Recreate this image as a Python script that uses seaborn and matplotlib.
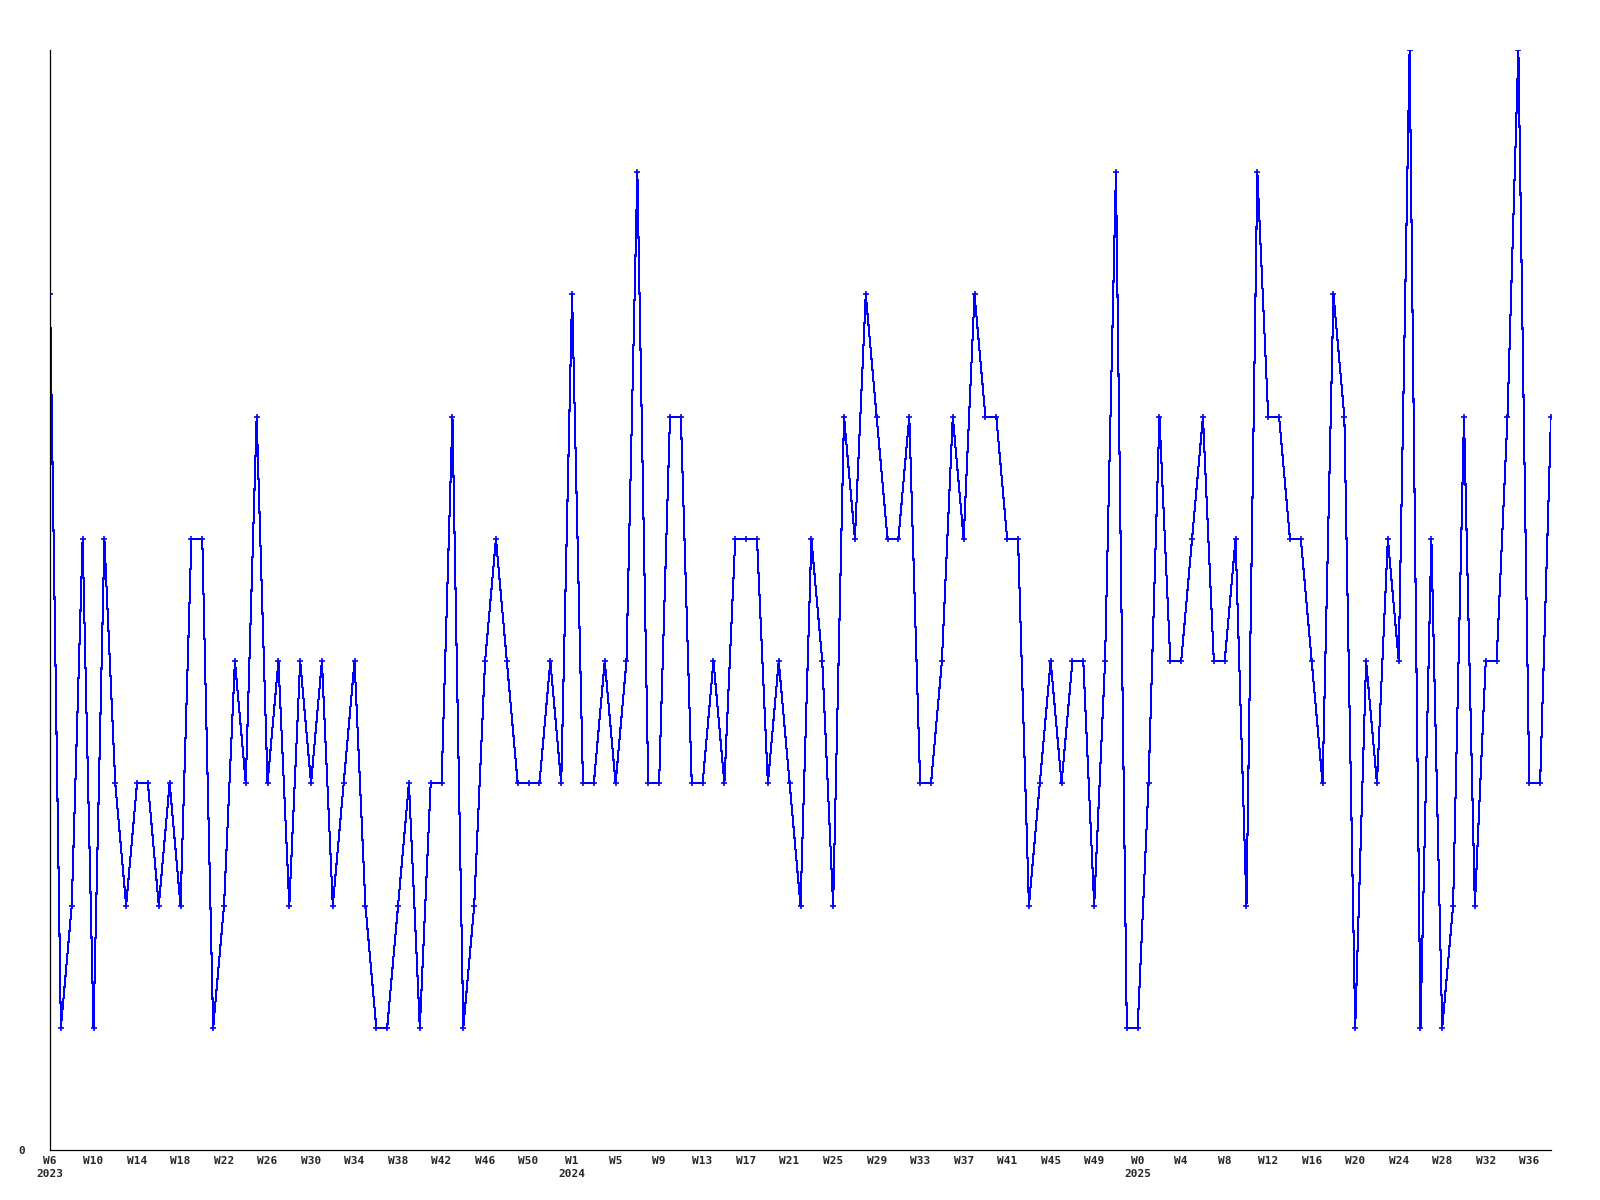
import matplotlib
matplotlib.use("Agg")
import matplotlib.pyplot as plt
import seaborn as sns
import pandas as pd

# Wochen-Kategorien (eine pro Messpunkt)
years = [2023] * 48 + [2024] * 52 + [2025] * 39
weeks = list(range(6, 54)) + list(range(1, 53)) + list(range(0, 39))

# Wochenwerte
values = [7, 1, 2, 5, 1, 5, 3, 2, 3, 3, 2, 3, 2, 5, 5, 1, 2, 4, 3, 6,
          3, 4, 2, 4, 3, 4, 2, 3, 4, 2, 1, 1, 2, 3, 1, 3, 3, 6, 1, 2,
          4, 5, 4, 3, 3, 3, 4, 3, 7, 3, 3, 4, 3, 4, 8, 3, 3, 6, 6, 3,
          3, 4, 3, 5, 5, 5, 3, 4, 3, 2, 5, 4, 2, 6, 5, 7, 6, 5, 5, 6,
          3, 3, 4, 6, 5, 7, 6, 6, 5, 5, 2, 3, 4, 3, 4, 4, 2, 4, 8, 1,
          1, 3, 6, 4, 4, 5, 6, 4, 4, 5, 2, 8, 6, 6, 5, 5, 4, 3, 7, 6,
          1, 4, 3, 5, 4, 9, 1, 5, 1, 2, 6, 2, 4, 4, 6, 9, 3, 3, 6]

df = pd.DataFrame({"year": years, "week": weeks, "value": values})
df["pos"] = range(len(df))

sns.set_style("white")
plt.rcParams['font.family'] = ['DejaVu Sans Mono', 'DejaVu Sans']
plt.rcParams['font.weight'] = 'bold'

fig = plt.figure(figsize=(16, 12), dpi=100)
ax = fig.add_axes([50 / 1600, 1 - 1150 / 1200, 1501 / 1600, 1100 / 1200])

sns.lineplot(data=df, x="pos", y="value", ax=ax, color="#0000ff",
             linewidth=0.75, marker="+", markersize=4, markeredgewidth=1.2,
             markeredgecolor="#0000ff", antialiased=False)

# Beschriftung jede 4. Woche, Jahr bei Jahreswechsel
tick_pos = []
tick_lab = []
last_year = None
for i in range(0, len(df), 4):
    label = "W%d" % df.loc[i, "week"]
    if df.loc[i, "year"] != last_year:
        label += "\n%d" % df.loc[i, "year"]
        last_year = df.loc[i, "year"]
    tick_pos.append(i)
    tick_lab.append(label)

ax.set_xticks(tick_pos)
ax.set_xticklabels(tick_lab, fontsize=8, fontweight="bold", linespacing=1.45)
ax.set_yticks([0])
ax.set_yticklabels(["0"], fontsize=8, fontweight="bold")
ax.tick_params(axis="x", length=0, pad=4)
ax.tick_params(axis="y", length=0, pad=18)

ax.set_xlim(0, len(df) - 1)
ax.set_ylim(0, 9)
ax.set_xlabel("")
ax.set_ylabel("")

for side in ["top", "right"]:
    ax.spines[side].set_visible(False)
for side in ["left", "bottom"]:
    ax.spines[side].set_color("black")
    ax.spines[side].set_linewidth(0.9)

fig.savefig("out.png", dpi=100)
